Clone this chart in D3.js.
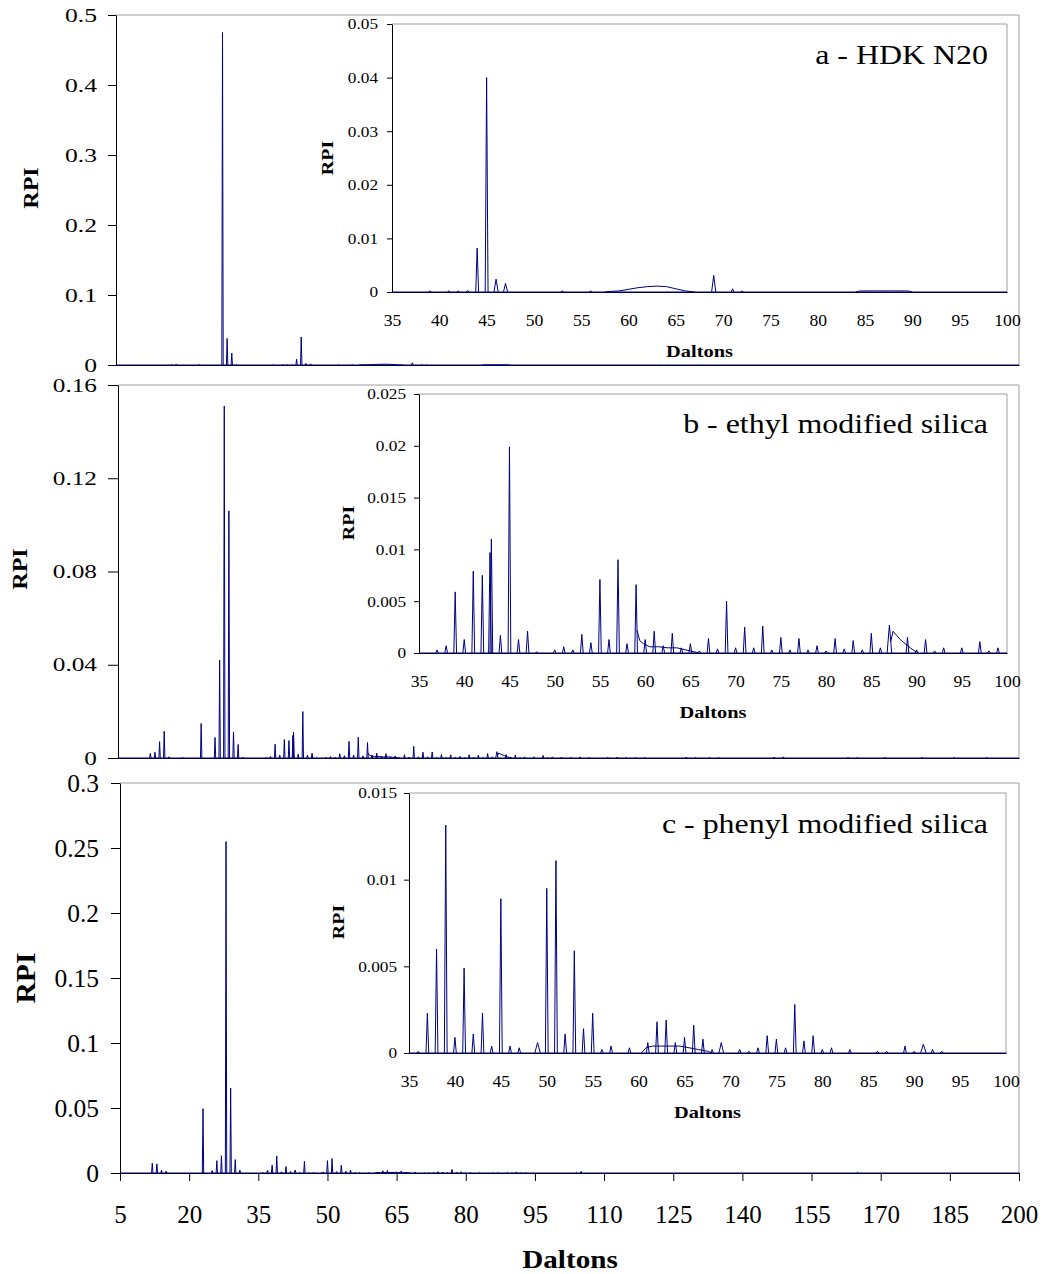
<!DOCTYPE html>
<html>
<head>
<meta charset="utf-8">
<script src="https://cdn.jsdelivr.net/npm/d3@7"></script>
<style>
  body { margin: 0; background: #fff; }
  svg { display: block; }
  text { font-family: "Liberation Serif", "Times New Roman", serif; fill: #000; }
</style>
</head>
<body>
<svg id="chart" width="1043" height="1274"></svg>
<script>
// ---------------- data ----------------
const massTicksMain = [5, 20, 35, 50, 65, 80, 95, 110, 125, 140, 155, 170, 185, 200];
const massTicksInset = [35, 40, 45, 50, 55, 60, 65, 70, 75, 80, 85, 90, 95, 100];

const rpiTicksMainA = [0, 0.1, 0.2, 0.3, 0.4, 0.5];
const rpiTicksMainB = [0, 0.04, 0.08, 0.12, 0.16];
const rpiTicksMainC = [0, 0.05, 0.1, 0.15, 0.2, 0.25, 0.3];
const rpiTicksInsetA = [0, 0.01, 0.02, 0.03, 0.04, 0.05];
const rpiTicksInsetB = [0, 0.005, 0.01, 0.015, 0.02, 0.025];
const rpiTicksInsetC = [0, 0.005, 0.01, 0.015];

const titles = ["a - HDK N20", "b - ethyl modified silica", "c - phenyl modified silica"];

// peaks: [mass (Da), relative peak intensity, optional half-width]
const peaksA = [
  [17, 0.0006], [18, 0.0012], [23, 0.0005], [28, 0.475], [29, 0.038], [30, 0.017], [31, 0.0008],
  [39, 0.0002], [41, 0.0002], [42, 0.0002], [43, 0.0003], [44, 0.0082], [45, 0.040],
  [46, 0.0024, 0.22], [47, 0.0016, 0.22], [53, 0.0002], [56, 0.0002],
  [69, 0.0031, 0.22], [71, 0.0006], [72, 0.0002]
];
// broad continuum features
const broadA = [
  [[57.5, 0], [58, 0.0001], [59, 0.0002], [60, 0.0005], [61, 0.0008], [62, 0.001], [63, 0.0011],
   [64, 0.001], [65, 0.0006], [66, 0.0002], [66.5, 0.0001], [67, 0]],
  [[84, 0], [84.5, 0.0002], [86, 0.0002], [88, 0.0002], [89.5, 0.0002], [90, 0]]
];

const peaksB = [
  [12, 0.002], [13, 0.0025], [14, 0.007], [15, 0.0115], [16, 0.0005], [19, 0.0003],
  [23, 0.0148], [26, 0.0088], [27, 0.042], [28, 0.151], [29, 0.106], [30, 0.0112], [31, 0.0058], [32, 0.0004],
  [37, 0.0003], [38, 0.0007], [39, 0.0059], [40, 0.0013], [41, 0.0079], [42, 0.0075], [42.85, 0.0097],
  [43, 0.011], [44, 0.0017], [45, 0.0199], [46, 0.0013], [47, 0.0021], [48, 0.0001], [50, 0.0003],
  [51, 0.0006], [52, 0.0003], [53, 0.0018], [54, 0.001], [55, 0.0071], [56, 0.0013], [57, 0.009],
  [58, 0.0009], [59, 0.0066], [60, 0.0013], [61, 0.0021], [62, 0.0007], [63, 0.0019], [64, 0.0005],
  [65, 0.0009], [66, 0.0002], [67, 0.0014], [68, 0.0004], [69, 0.005], [70, 0.0005], [71, 0.0025],
  [72, 0.0005], [73, 0.0026], [74, 0.0003], [75, 0.0015], [76, 0.0003], [77, 0.0014], [78, 0.0003],
  [79, 0.0007], [80, 0.0002], [81, 0.0014], [82, 0.0004], [83, 0.0012], [84, 0.0003], [85, 0.0019],
  [86, 0.0005], [87, 0.0027, 0.25], [89, 0.0015], [90, 0.0003], [91, 0.0013], [92, 0.0002], [93, 0.0005],
  [95, 0.0005], [97, 0.0011], [98, 0.0002], [99, 0.0005],
  [101, 0.0004], [103, 0.0003], [105, 0.0005], [107, 0.0003], [111, 0.0003], [113, 0.0004],
  [115, 0.0003], [117, 0.0003], [119, 0.0003], [128, 0.0004], [130, 0.0003], [133, 0.0003],
  [135, 0.0003], [147, 0.0004], [149, 0.0005], [163, 0.0003], [165, 0.0003], [171, 0.0003],
  [179, 0.0003], [186, 0.0003], [193, 0.0003]
];
const broadB = [
  [[59.1, 0.0022], [59.4, 0.0012], [59.8, 0.0009], [60.5, 0.0006], [61.5, 0.0006], [62.5, 0.0005],
   [63.5, 0.0005], [64.5, 0.0003], [65.5, 0.0001], [66, 0]],
  [[87.15, 0.0011], [87.4, 0.0021], [87.8, 0.0017], [88.2, 0.0013], [88.6, 0.001], [89.3, 0.0005],
   [89.8, 0.0002], [90.2, 0]]
];

const peaksC = [
  [12, 0.0075], [13, 0.007], [14, 0.0022], [15, 0.0015], [23, 0.0495], [25, 0.002], [26, 0.0095],
  [27, 0.0133], [28, 0.255], [29, 0.0654], [30, 0.0103], [31, 0.0022],
  [36, 0.0001], [37, 0.0023], [38, 0.006], [39, 0.01315], [40, 0.0009], [41, 0.0049], [42, 0.0011],
  [43, 0.0023], [44, 0.0004], [45, 0.0089], [46, 0.0004], [47, 0.0003], [49, 0.0006, 0.3],
  [50, 0.0095], [51, 0.0111], [52, 0.0011], [53, 0.0059], [54, 0.0014], [55, 0.0023], [56, 0.0002],
  [57, 0.0004], [59, 0.0003], [61, 0.0006], [62, 0.0018], [63, 0.0019], [64, 0.0006], [65, 0.0009],
  [66, 0.0016], [67, 0.0008], [68, 0.0002], [69, 0.0006, 0.25], [71, 0.0002], [72, 0.0001], [73, 0.0003],
  [74, 0.001], [75, 0.0008], [76, 0.0003], [77, 0.0028], [78, 0.0007], [79, 0.001], [80, 0.0002],
  [81, 0.0003], [83, 0.0002], [86, 0.0001], [87, 0.0001], [89, 0.0004], [90, 0.0001],
  [91, 0.0005, 0.3], [92, 0.0002], [93, 0.0001],
  [104, 0.0004], [105, 0.0012], [165, 0.0005]
];
const broadC = [
  [[60.3, 0], [60.8, 0.0003], [61.5, 0.0004], [62.5, 0.0004], [63.5, 0.0004], [64.5, 0.0004],
   [65.5, 0.0003], [66.5, 0.0002], [67.5, 0.0001], [68, 0]]
];

// ---------------- layout ----------------
const NAVY = "#000080";
const FRAME = "#a0a0a0";
const MAIN_RIGHT = 1019;
const PEAK_HALF_WIDTH = 0.15;

const panels = [
  {
    peaks: peaksA, broad: broadA, title: titles[0],
    main: { l: 116, t: 15, b: 365, ticks: rpiTicksMainA, font: 19, sx: 1.35, gap: 19, tick: 8,
            label: { x: 31, y: 188, font: 20, sx: 1.2 } },
    inset: { l: 392, r: 1007, t: 24, b: 292, ticks: rpiTicksInsetA, gap: 14,
             label: { x: 327, y: 158 } },
    titleY: 64, xAxis: false
  },
  {
    peaks: peaksB, broad: broadB, title: titles[1],
    main: { l: 118, t: 385, b: 758, ticks: rpiTicksMainB, font: 19, sx: 1.33, gap: 21, tick: 10,
            label: { x: 20, y: 569, font: 20, sx: 1.2 } },
    inset: { l: 419, r: 1007, t: 394, b: 653, ticks: rpiTicksInsetB, gap: 13,
             label: { x: 348, y: 523 } },
    titleY: 433, xAxis: false
  },
  {
    peaks: peaksC, broad: broadC, title: titles[2],
    main: { l: 120, t: 783, b: 1173, ticks: rpiTicksMainC, font: 25, sx: 1.02, gap: 21, tick: 9,
            label: { x: 26, y: 978, font: 27, sx: 1.1 } },
    inset: { l: 409, r: 1006, t: 793, b: 1053, ticks: rpiTicksInsetC, gap: 12,
             label: { x: 338, y: 922 } },
    titleY: 833, xAxis: true
  }
];

const svg = d3.select("#chart");

function stretchedText(g, x, y, str, opts) {
  const t = g.append("text")
    .attr("transform", `translate(${x},${y})${opts.rotate ? " rotate(-90)" : ""} scale(${opts.sx || 1},1)`)
    .attr("text-anchor", opts.anchor || "middle")
    .style("font-size", opts.size + "px")
    .style("font-weight", opts.bold ? "bold" : "normal")
    .text(str);
  if (opts.central) t.attr("dominant-baseline", "central");
  return t;
}

function styleAxis(g) {
  g.select(".domain").attr("stroke", "#000").attr("stroke-width", 1);
  g.selectAll(".tick line").attr("stroke", "#000");
}

function drawSpectrum(g, x, y, peaks, broad, lo, hi) {
  const line = d3.line().x(d => x(d[0])).y(d => y(d[1]));
  const grp = g.append("g")
    .attr("fill", "none").attr("stroke", NAVY).attr("stroke-width", 1)
    .attr("stroke-linejoin", "round");
  // baseline
  grp.append("path").attr("d", line([[lo, 0], [hi, 0]]));
  // continuum features
  broad.filter(seg => seg[0][0] >= lo && seg[seg.length - 1][0] <= hi)
    .forEach(seg => grp.append("path").attr("d", line(seg)));
  // individual peaks
  peaks.filter(p => p[0] >= lo && p[0] <= hi).forEach(p => {
    const w = p[2] || PEAK_HALF_WIDTH;
    grp.append("path").attr("d", line([[p[0] - w, 0], [p[0], p[1]], [p[0] + w, 0]]));
  });
}

function fmt(v) { return String(v); }

panels.forEach(P => {
  // ---------- main plot ----------
  const m = P.main;
  const x = d3.scaleLinear().domain([5, 200]).range([m.l, MAIN_RIGHT]);
  const y = d3.scaleLinear().domain([0, d3.max(m.ticks)]).range([m.b, m.t]);
  const gm = svg.append("g");

  // plot-area frame (top and right)
  gm.append("path")
    .attr("d", `M${m.l},${m.t}H${MAIN_RIGHT}V${m.b}`)
    .attr("fill", "none").attr("stroke", FRAME).attr("stroke-width", 1);

  const ya = gm.append("g").attr("transform", `translate(${m.l},0)`)
    .call(d3.axisLeft(y).tickValues(m.ticks).tickSize(m.tick).tickSizeOuter(0).tickFormat(fmt));
  styleAxis(ya);
  ya.selectAll(".tick text")
    .attr("x", -m.gap / m.sx)
    .attr("transform", `scale(${m.sx},1)`)
    .style("font-size", m.font + "px")
    .attr("font-family", null);

  const xa = gm.append("g").attr("transform", `translate(0,${m.b})`)
    .call(d3.axisBottom(x).tickValues(P.xAxis ? massTicksMain : []).tickSize(8).tickSizeOuter(0).tickFormat(d => d));
  styleAxis(xa);
  xa.selectAll(".tick text").attr("y", 50).attr("dy", 0)
    .style("font-size", "25px").attr("font-family", null);

  stretchedText(gm, m.label.x, m.label.y, "RPI",
    { rotate: true, sx: m.label.sx, size: m.label.font, bold: true, central: true });

  drawSpectrum(gm, x, y, P.peaks, P.broad, 5, 200);

  // ---------- inset ----------
  const s = P.inset;
  const xi = d3.scaleLinear().domain([35, 100]).range([s.l, s.r]);
  const yi = d3.scaleLinear().domain([0, d3.max(s.ticks)]).range([s.b, s.t]);
  const gi = svg.append("g");

  gi.append("rect").attr("x", s.l).attr("y", s.t).attr("width", s.r - s.l).attr("height", s.b - s.t)
    .attr("fill", "#fff");
  gi.append("path")
    .attr("d", `M${s.l},${s.t}H${s.r}V${s.b}`)
    .attr("fill", "none").attr("stroke", FRAME).attr("stroke-width", 1);

  const yia = gi.append("g").attr("transform", `translate(${s.l},0)`)
    .call(d3.axisLeft(yi).tickValues(s.ticks).tickSize(5).tickSizeOuter(0).tickFormat(fmt));
  styleAxis(yia);
  yia.selectAll(".tick text")
    .attr("x", -s.gap / 1.15)
    .attr("transform", "scale(1.15,1)")
    .style("font-size", "15px")
    .attr("font-family", null);

  const xia = gi.append("g").attr("transform", `translate(0,${s.b})`)
    .call(d3.axisBottom(xi).tickValues(massTicksInset).tickSize(0).tickSizeOuter(0).tickFormat(d => d));
  styleAxis(xia);
  xia.selectAll(".tick text").attr("y", 34).attr("dy", 0)
    .attr("transform", "scale(1.1,1)")
    .style("font-size", "16px").attr("font-family", null);

  stretchedText(gi, (s.l + s.r) / 2, s.b + 65, "Daltons", { sx: 1.2, size: 17, bold: true });
  stretchedText(gi, s.label.x, s.label.y, "RPI",
    { rotate: true, sx: 1.17, size: 17, bold: true, central: true });

  stretchedText(gi, 988, P.titleY, P.title, { sx: 1.14, size: 28, anchor: "end" });

  drawSpectrum(gi, xi, yi, P.peaks, P.broad, 35, 100);
});

// shared mass axis title
stretchedText(svg, 570, 1268, "Daltons", { sx: 1.12, size: 26, bold: true });
</script>
</body>
</html>
